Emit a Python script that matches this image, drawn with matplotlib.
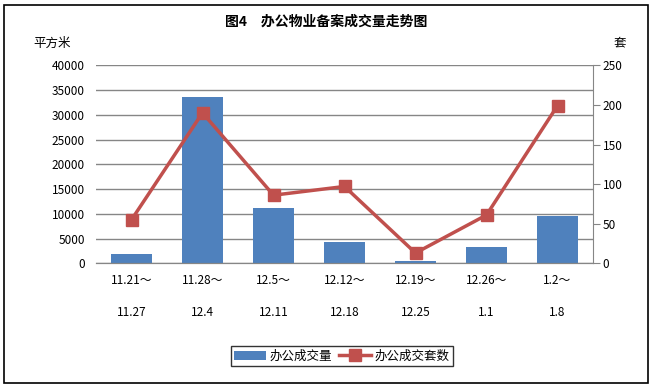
import matplotlib.pyplot as plt
from matplotlib.patches import Rectangle

plt.rcParams["font.family"] = ["Noto Sans CJK SC", "DejaVu Sans"]

periods_top = ["11.21～", "11.28～", "12.5～", "12.12～", "12.19～", "12.26～", "1.2～"]
periods_bottom = ["11.27", "12.4", "12.11", "12.18", "12.25", "1.1", "1.8"]
area = [1900, 33600, 11200, 4300, 500, 3300, 9600]
units = [55, 190, 86, 97, 13, 61, 199]

fig = plt.figure(figsize=(6.53, 3.88), dpi=100)
fig.patches.append(Rectangle((4 / 653, 5 / 388), 644 / 653, 378 / 388, transform=fig.transFigure,
                             fill=False, edgecolor="black", linewidth=1.2))

ax = fig.add_axes([96 / 653, 124.7 / 388, 497 / 653, 198 / 388])
ax2 = ax.twinx()

x = list(range(len(area)))
b = ax.bar(x, area, width=0.58, color="#4F81BD", label="办公成交量", zorder=2)
l, = ax2.plot(x, units, color="#C0504D", linewidth=2.5, marker="s", markersize=8,
              label="办公成交套数", zorder=3)

ax.set_xlim(-0.5, 6.5)
ax.set_ylim(0, 40000)
ax.set_yticks(range(0, 40001, 5000))
ax2.set_ylim(0, 250)
ax2.set_yticks(range(0, 251, 50))

ax.grid(axis="y", color="#868686", linewidth=1, zorder=0)
ax.set_axisbelow(True)
for a in (ax, ax2):
    a.spines["top"].set_visible(False)
    a.spines["left"].set_visible(False)
    a.spines["bottom"].set_color("#868686")
    a.spines["right"].set_color("#868686")
ax.spines["right"].set_visible(False)

ax.tick_params(axis="y", length=0, pad=8, labelsize=8.5)
ax2.tick_params(axis="y", length=5, color="#868686", pad=2, labelsize=8.5)
ax.set_xticks(x)
ax.set_xticklabels(periods_top, fontsize=8.5)
ax.tick_params(axis="x", length=0, pad=8)
for i, s in zip(x, periods_bottom):
    ax.text(i, -0.251, s, transform=ax.get_xaxis_transform(), ha="center", va="center", fontsize=8.5)

fig.text(0.5, 1 - 22 / 388, "图4　办公物业备案成交量走势图", ha="center", va="center",
         fontsize=10, fontweight="bold")
fig.text(33 / 653, 1 - 43 / 388, "平方米", ha="left", va="center", fontsize=9)
fig.text(614 / 653, 1 - 43 / 388, "套", ha="left", va="center", fontsize=9)

leg = fig.legend(handles=[b, l], loc="center", bbox_to_anchor=(342 / 653, 1 - 356 / 388), ncol=2,
                 frameon=True, fancybox=False, edgecolor="black", fontsize=9,
                 handlelength=2.5, columnspacing=0.6, handletextpad=0.3, borderpad=0.3)
leg.get_frame().set_linewidth(1)

fig.savefig("out.png", dpi=100)
